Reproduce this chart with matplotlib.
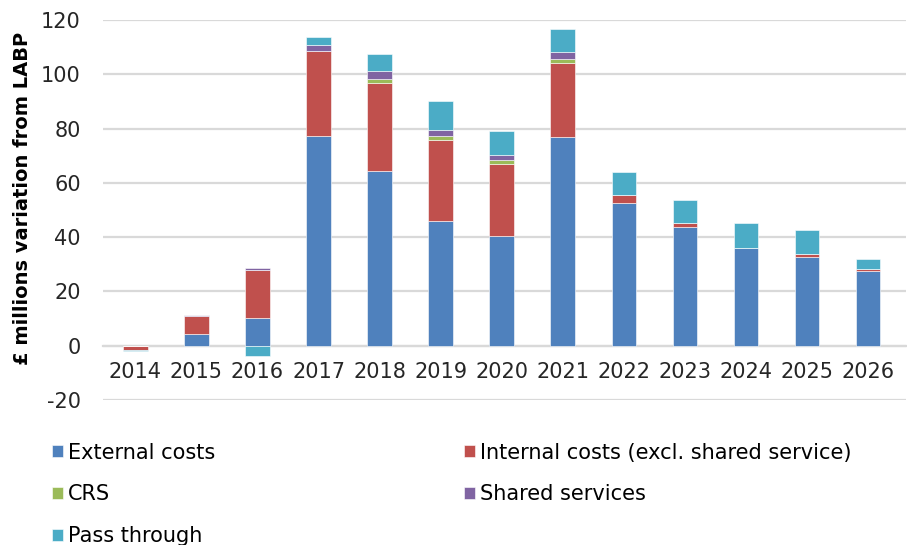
import matplotlib.pyplot as plt
import numpy as np

years = ["2014", "2015", "2016", "2017", "2018", "2019", "2020",
         "2021", "2022", "2023", "2024", "2025", "2026"]

external = [0.0, 4.5, 10.3, 77.4, 64.5, 46.1, 40.5, 76.9, 52.8, 43.7, 36.2, 32.6, 27.6]
internal = [-1.6, 6.4, 17.6, 31.2, 32.2, 29.9, 26.5, 27.4, 2.9, 1.5, 0.0, 1.3, 0.8]
crs = [0.0, 0.0, 0.0, 0.0, 1.8, 1.4, 1.4, 1.4, 0.0, 0.0, 0.0, 0.0, 0.0]
shared = [0.0, 0.4, 0.8, 2.3, 2.9, 2.3, 1.9, 2.4, 0.0, 0.0, 0.0, 0.0, 0.0]
pass_through = [-0.4, 0.0, -3.8, 2.9, 6.3, 10.5, 8.9, 8.5, 8.4, 8.5, 9.0, 8.6, 3.7]

series = [
    ("External costs", external, "#4F81BD"),
    ("Internal costs (excl. shared service)", internal, "#C0504D"),
    ("CRS", crs, "#9BBB59"),
    ("Shared services", shared, "#8064A2"),
    ("Pass through", pass_through, "#4BACC6"),
]

plt.rcParams["font.family"] = ["DejaVu Sans"]
plt.rcParams["axes.unicode_minus"] = False

fig = plt.figure(figsize=(9.07, 5.45), dpi=100)
ax = fig.add_axes([0.1136, 0.266, 0.885, 0.697])

# stack positives upward and negatives downward, as in a spreadsheet chart
x = np.arange(len(years))
pos_base = np.zeros(len(years))
neg_base = np.zeros(len(years))
handles = {}
for name, vals, color in series:
    v = np.array(vals)
    bottom = np.where(v >= 0, pos_base, neg_base)
    handles[name] = ax.bar(x, v, 0.4, bottom=bottom, color=color,
                           edgecolor="white", linewidth=0.4, label=name, zorder=3)
    pos_base += np.clip(v, 0, None)
    neg_base += np.clip(v, None, 0)

ax.set_ylim(-20, 120)
ax.set_yticks(range(-20, 121, 20))
ax.set_xlim(-0.53, 12.62)
ax.set_xticks(x)
ax.set_xticklabels(years)

grid_col = "#D9D9D9"
ax.grid(axis="y", color=grid_col, linewidth=1.6, zorder=0)
for side in ("top", "right", "left"):
    ax.spines[side].set_visible(False)
ax.spines["bottom"].set_position(("data", 0))
ax.spines["bottom"].set_color(grid_col)
ax.spines["bottom"].set_linewidth(1.6)
ax.tick_params(axis="both", length=0, labelsize=15, colors="#262626")
ax.tick_params(axis="x", pad=12)
ax.tick_params(axis="y", pad=16)

fig.text(0.025, 0.635, "£ millions variation from LABP", rotation=90,
         fontsize=14, fontweight="bold", ha="center", va="center")

order = ["External costs", "CRS", "Pass through",
         "Internal costs (excl. shared service)", "Shared services"]
fig.legend([handles[n] for n in order], order, loc="upper left",
           bbox_to_anchor=(0.057, 0.188), ncol=2, frameon=False, fontsize=15,
           handlelength=0.55, handleheight=0.55, handletextpad=0.25,
           labelspacing=1.05, columnspacing=11.9, borderpad=0, borderaxespad=0)

fig.savefig("out.png", dpi=100)
